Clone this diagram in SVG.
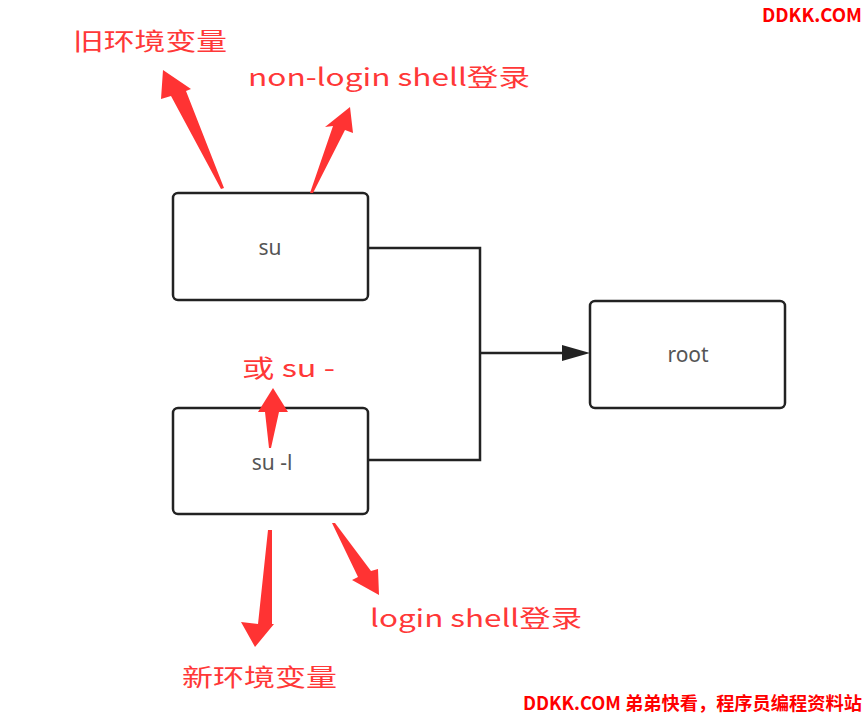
<svg xmlns="http://www.w3.org/2000/svg" width="866" height="716" viewBox="0 0 866 716">
<defs>
<style>
.box{fill:#ffffff;stroke:#222222;stroke-width:2.5}
.lbl{font-family:"Noto Sans","Noto Sans CJK SC",sans-serif;font-size:21px;fill:#555555;text-anchor:middle}
.red{font-family:"Noto Sans CJK SC","Noto Sans",sans-serif;font-size:24px;fill:#ff3838}
.arr{fill:#ff3333}
.wm{font-family:"Noto Sans CJK SC","Noto Sans",sans-serif;font-weight:bold;fill:#ff0000}
.conn{fill:none;stroke:#222222;stroke-width:2.5}
</style>
</defs>
<rect width="866" height="716" fill="#ffffff"/>
<g id="connectors">
<path class="conn" d="M368,248 H480 V460 H368"/>
<path class="conn" d="M480,353 H566"/>
<path d="M562,345 L590,353 L562,361 Z" fill="#222222"/>
</g>
<g id="node-su">
<rect class="box" x="173" y="193" width="195" height="107" rx="5"/>
<text class="lbl" x="270" y="255">su</text>
</g>
<g id="node-su-l">
<rect class="box" x="173" y="408" width="195" height="106" rx="5"/>
<text class="lbl" x="272" y="470">su -l</text>
</g>
<g id="node-root">
<rect class="box" x="590" y="301" width="195" height="107" rx="5"/>
<text class="lbl" x="688" y="362">root</text>
</g>
<g id="annotations">
<path class="arr" d="M221,189 L224,188 L186,91 L191,89 L163,70 L161,99 L171,96 Z"/>
<path class="arr" d="M310,193 L313,193 L345,130 L353,133 L350,107 L325,127 L333,126 Z"/>
<path class="arr" d="M269,448 L271,448 L279,412 L288,412 L273,388 L258,412 L265,412 Z"/>
<path class="arr" d="M268,530 L272,530 L272,624 L274,624 L255,647 L241,622 L258,624 Z"/>
<path class="arr" d="M332,523 L335,523 L371,571 L378,569 L379,595 L352,580 L358,577 Z"/>
<text class="red" x="73" y="50" textLength="154" lengthAdjust="spacingAndGlyphs">旧环境变量</text>
<text class="red" x="248" y="86" textLength="282" lengthAdjust="spacingAndGlyphs">non-login shell登录</text>
<text class="red" x="242" y="377" textLength="93" lengthAdjust="spacingAndGlyphs">或 su -</text>
<text class="red" x="370" y="627" textLength="212" lengthAdjust="spacingAndGlyphs">login shell登录</text>
<text class="red" x="182" y="686" textLength="155" lengthAdjust="spacingAndGlyphs">新环境变量</text>
</g>
<g id="watermarks">
<text class="wm" x="762" y="22" font-size="19" textLength="100" lengthAdjust="spacingAndGlyphs">DDKK.COM</text>
<text class="wm" x="523" y="710" font-size="18" textLength="339" lengthAdjust="spacingAndGlyphs">DDKK.COM 弟弟快看，程序员编程资料站</text>
</g>
</svg>
